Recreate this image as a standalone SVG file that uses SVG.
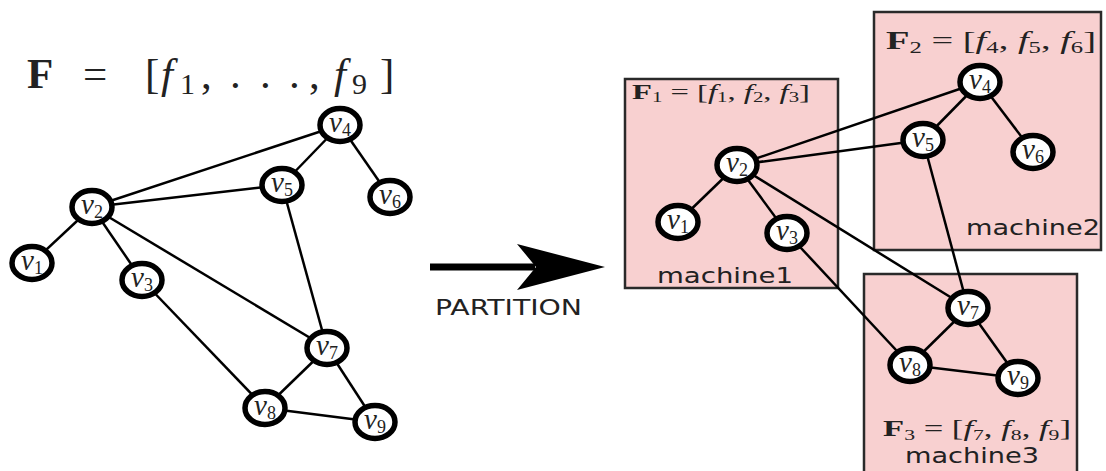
<svg xmlns="http://www.w3.org/2000/svg" width="1106" height="471" viewBox="0 0 1106 471">
<style>
.box{fill:#f8d0d0;stroke:#2a2a2a;stroke-width:2.5}
.e{stroke:#000;stroke-width:2.5;fill:none}
.n{fill:#fff;stroke:#000;stroke-width:5.5}
.nl{font-family:"Liberation Serif",serif;font-style:italic;font-size:29px;fill:#222;text-anchor:middle}
.sub{font-style:normal;font-size:18px}
.mach{font-family:"DejaVu Sans",sans-serif;font-size:22px;fill:#222}
.math{font-family:"Liberation Serif",serif;fill:#222}
.b{font-weight:bold;font-style:normal}
.i{font-style:italic}
</style>
<rect x="0" y="0" width="1106" height="471" fill="#fff"/>
<g id="boxes">
<rect class="box" x="625" y="79" width="213" height="209"/>
<rect class="box" x="874" y="12" width="227" height="238"/>
<rect class="box" x="864" y="274" width="213" height="205"/>
</g>
<g id="title">
<text class="math" y="88" font-size="43"><tspan x="27" class="b">F</tspan><tspan x="83">=</tspan><tspan x="145">[</tspan><tspan x="161" class="i">f</tspan><tspan x="180" font-size="30" dy="6">1</tspan><tspan x="201" dy="-6">,</tspan><tspan x="230">.</tspan><tspan x="260">.</tspan><tspan x="289">.</tspan><tspan x="309">,</tspan><tspan x="334" class="i">f</tspan><tspan x="352" font-size="30" dy="6">9</tspan><tspan x="380" dy="-6">]</tspan></text>
</g>
<g id="arrow">
<path d="M430 263.5 H535 V270.5 H430 Z" fill="#000"/>
<path d="M605 267 L517 244 L536 267 L517 290 Z" fill="#000"/>
<text class="mach" x="435" y="315" font-size="23" textLength="147" lengthAdjust="spacingAndGlyphs">PARTITION</text>
</g>
<g id="connectors">
<line class="e" x1="92" y1="207" x2="340" y2="125"/>
<line class="e" x1="92" y1="207" x2="282" y2="185"/>
<line class="e" x1="92" y1="207" x2="32" y2="263"/>
<line class="e" x1="92" y1="207" x2="142" y2="280"/>
<line class="e" x1="92" y1="207" x2="327" y2="348"/>
<line class="e" x1="340" y1="125" x2="282" y2="185"/>
<line class="e" x1="340" y1="125" x2="390" y2="197"/>
<line class="e" x1="282" y1="185" x2="327" y2="348"/>
<line class="e" x1="142" y1="280" x2="265" y2="408"/>
<line class="e" x1="327" y1="348" x2="265" y2="408"/>
<line class="e" x1="327" y1="348" x2="375" y2="422"/>
<line class="e" x1="265" y1="408" x2="375" y2="422"/>
<line class="e" x1="737" y1="165" x2="980" y2="82"/>
<line class="e" x1="737" y1="165" x2="923" y2="140"/>
<line class="e" x1="737" y1="165" x2="678" y2="222"/>
<line class="e" x1="737" y1="165" x2="787" y2="233"/>
<line class="e" x1="737" y1="165" x2="968" y2="308"/>
<line class="e" x1="980" y1="82" x2="923" y2="140"/>
<line class="e" x1="980" y1="82" x2="1033" y2="152"/>
<line class="e" x1="923" y1="140" x2="968" y2="308"/>
<line class="e" x1="787" y1="233" x2="910" y2="365"/>
<line class="e" x1="968" y1="308" x2="910" y2="365"/>
<line class="e" x1="968" y1="308" x2="1018" y2="378"/>
<line class="e" x1="910" y1="365" x2="1018" y2="378"/>
</g>
<g id="L_v1"><ellipse class="n" cx="32" cy="263" rx="20" ry="16.5"/><text class="nl" x="32" y="270">v<tspan class="sub" dy="4">1</tspan></text></g>
<g id="L_v2"><ellipse class="n" cx="92" cy="207" rx="20" ry="16.5"/><text class="nl" x="92" y="214">v<tspan class="sub" dy="4">2</tspan></text></g>
<g id="L_v3"><ellipse class="n" cx="142" cy="280" rx="20" ry="16.5"/><text class="nl" x="142" y="287">v<tspan class="sub" dy="4">3</tspan></text></g>
<g id="L_v4"><ellipse class="n" cx="340" cy="125" rx="20" ry="16.5"/><text class="nl" x="340" y="132">v<tspan class="sub" dy="4">4</tspan></text></g>
<g id="L_v5"><ellipse class="n" cx="282" cy="185" rx="20" ry="16.5"/><text class="nl" x="282" y="192">v<tspan class="sub" dy="4">5</tspan></text></g>
<g id="L_v6"><ellipse class="n" cx="390" cy="197" rx="20" ry="16.5"/><text class="nl" x="390" y="204">v<tspan class="sub" dy="4">6</tspan></text></g>
<g id="L_v7"><ellipse class="n" cx="327" cy="348" rx="20" ry="16.5"/><text class="nl" x="327" y="355">v<tspan class="sub" dy="4">7</tspan></text></g>
<g id="L_v8"><ellipse class="n" cx="265" cy="408" rx="20" ry="16.5"/><text class="nl" x="265" y="415">v<tspan class="sub" dy="4">8</tspan></text></g>
<g id="L_v9"><ellipse class="n" cx="375" cy="422" rx="20" ry="16.5"/><text class="nl" x="375" y="429">v<tspan class="sub" dy="4">9</tspan></text></g>
<g id="R_v1"><ellipse class="n" cx="678" cy="222" rx="20" ry="16.5"/><text class="nl" x="678" y="229">v<tspan class="sub" dy="4">1</tspan></text></g>
<g id="R_v2"><ellipse class="n" cx="737" cy="165" rx="20" ry="16.5"/><text class="nl" x="737" y="172">v<tspan class="sub" dy="4">2</tspan></text></g>
<g id="R_v3"><ellipse class="n" cx="787" cy="233" rx="20" ry="16.5"/><text class="nl" x="787" y="240">v<tspan class="sub" dy="4">3</tspan></text></g>
<g id="R_v4"><ellipse class="n" cx="980" cy="82" rx="20" ry="16.5"/><text class="nl" x="980" y="89">v<tspan class="sub" dy="4">4</tspan></text></g>
<g id="R_v5"><ellipse class="n" cx="923" cy="140" rx="20" ry="16.5"/><text class="nl" x="923" y="147">v<tspan class="sub" dy="4">5</tspan></text></g>
<g id="R_v6"><ellipse class="n" cx="1033" cy="152" rx="20" ry="16.5"/><text class="nl" x="1033" y="159">v<tspan class="sub" dy="4">6</tspan></text></g>
<g id="R_v7"><ellipse class="n" cx="968" cy="308" rx="20" ry="16.5"/><text class="nl" x="968" y="315">v<tspan class="sub" dy="4">7</tspan></text></g>
<g id="R_v8"><ellipse class="n" cx="910" cy="365" rx="20" ry="16.5"/><text class="nl" x="910" y="372">v<tspan class="sub" dy="4">8</tspan></text></g>
<g id="R_v9"><ellipse class="n" cx="1018" cy="378" rx="20" ry="16.5"/><text class="nl" x="1018" y="385">v<tspan class="sub" dy="4">9</tspan></text></g>
<g id="machine1_labels">
<text class="math" x="632" y="99" font-size="22" textLength="178" lengthAdjust="spacingAndGlyphs"><tspan class="b">F</tspan><tspan font-size="14" dy="3">1</tspan><tspan dy="-3"> = [</tspan><tspan class="i">f</tspan><tspan font-size="14" dy="3">1</tspan><tspan dy="-3">, </tspan><tspan class="i">f</tspan><tspan font-size="14" dy="3">2</tspan><tspan dy="-3">, </tspan><tspan class="i">f</tspan><tspan font-size="14" dy="3">3</tspan><tspan dy="-3">]</tspan></text>
<text class="mach" x="657" y="283" textLength="136" lengthAdjust="spacingAndGlyphs">machine1</text>
</g>
<g id="machine2_labels">
<text class="math" x="886" y="49" font-size="25" textLength="210" lengthAdjust="spacingAndGlyphs"><tspan class="b">F</tspan><tspan font-size="16" dy="4">2</tspan><tspan dy="-4"> = [</tspan><tspan class="i">f</tspan><tspan font-size="16" dy="4">4</tspan><tspan dy="-4">, </tspan><tspan class="i">f</tspan><tspan font-size="16" dy="4">5</tspan><tspan dy="-4">, </tspan><tspan class="i">f</tspan><tspan font-size="16" dy="4">6</tspan><tspan dy="-4">]</tspan></text>
<text class="mach" x="966" y="235" textLength="134" lengthAdjust="spacingAndGlyphs">machine2</text>
</g>
<g id="machine3_labels">
<text class="math" x="883" y="436" font-size="24" textLength="188" lengthAdjust="spacingAndGlyphs"><tspan class="b">F</tspan><tspan font-size="15" dy="4">3</tspan><tspan dy="-4"> = [</tspan><tspan class="i">f</tspan><tspan font-size="15" dy="4">7</tspan><tspan dy="-4">, </tspan><tspan class="i">f</tspan><tspan font-size="15" dy="4">8</tspan><tspan dy="-4">, </tspan><tspan class="i">f</tspan><tspan font-size="15" dy="4">9</tspan><tspan dy="-4">]</tspan></text>
<text class="mach" x="905" y="463" textLength="134" lengthAdjust="spacingAndGlyphs">machine3</text>
</g>
</svg>
